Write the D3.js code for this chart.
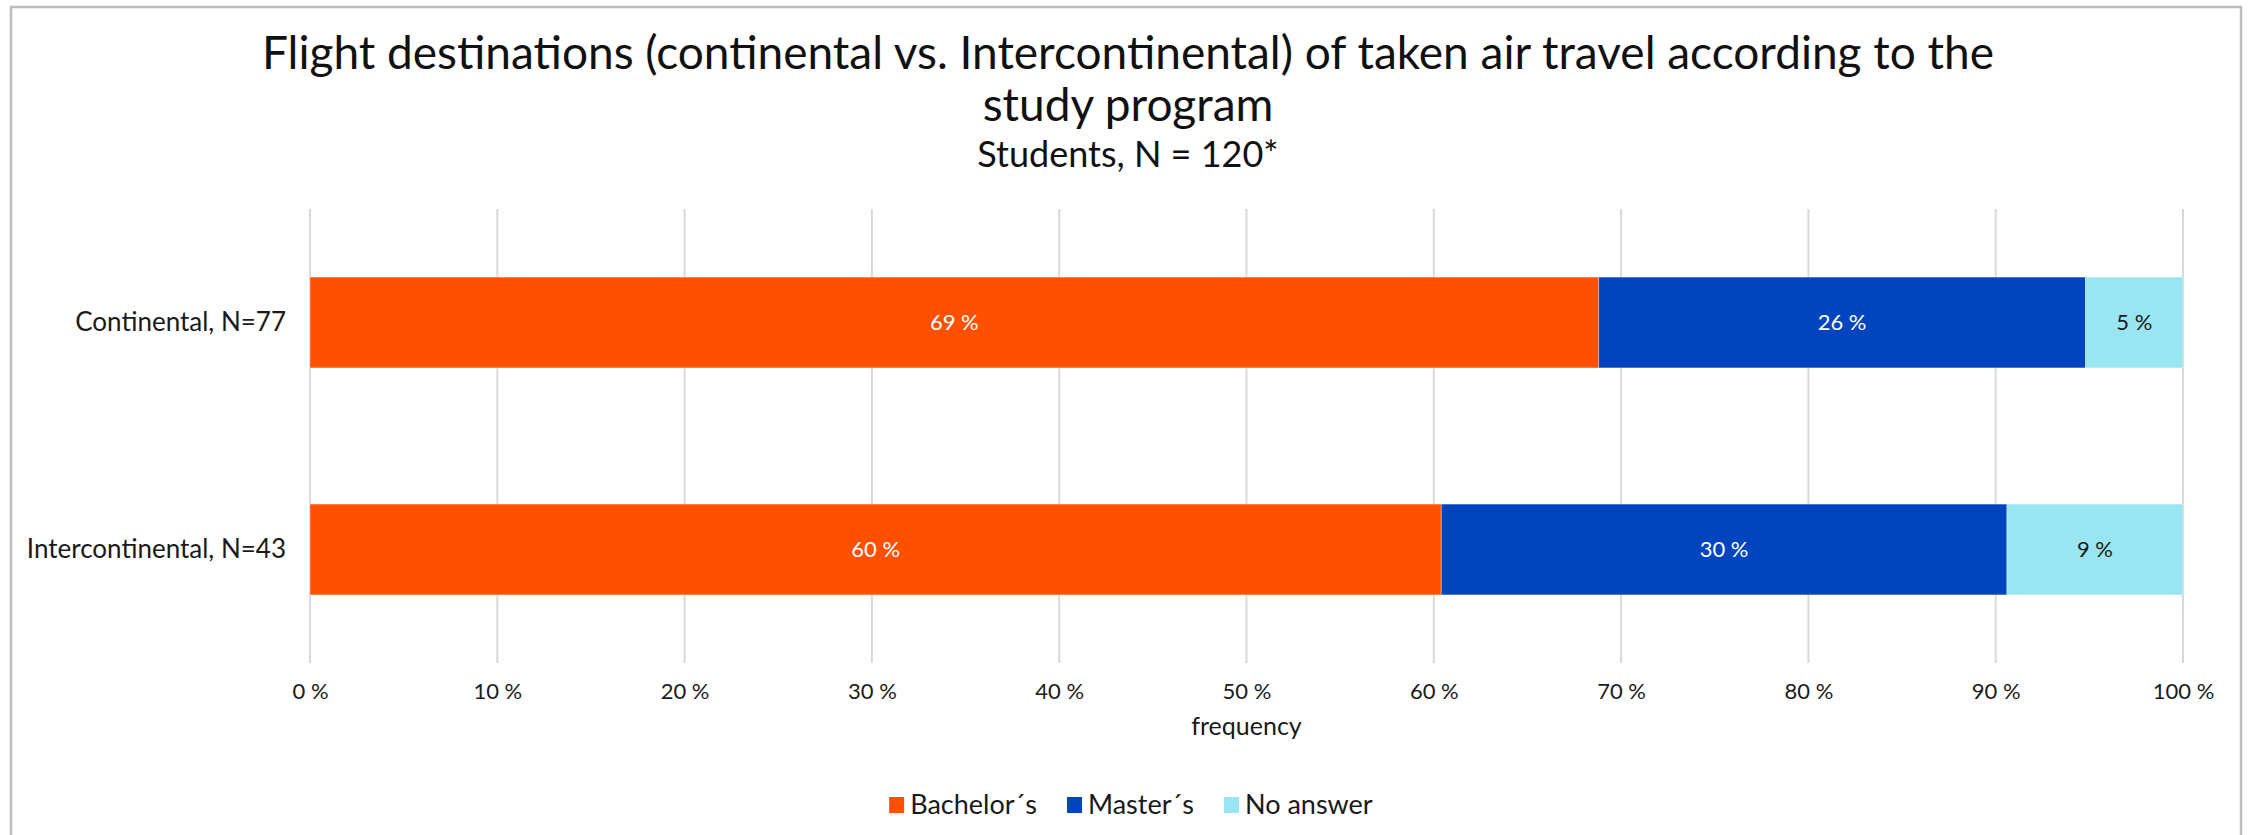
<!DOCTYPE html>
<html>
<head>
<meta charset="utf-8">
<script src="https://cdn.jsdelivr.net/npm/d3@7"></script>
<style>
  html, body { margin: 0; padding: 0; background: #fff; }
  svg { display: block; font-family: Lato, "Open Sans", sans-serif; }
</style>
</head>
<body>
<svg id="chart" width="2252" height="835"></svg>
<script>
// Flight destinations by study program (share of respondents, %)
const categories = ["Continental, N=77", "Intercontinental, N=43"];
const seriesNames = ["Bachelor´s", "Master´s", "No answer"];
const bachelor = [68.8, 60.4];
const master = [26.0, 30.2];
const noAnswer = [5.2, 9.4];
const xTicks = [0, 10, 20, 30, 40, 50, 60, 70, 80, 90, 100];
const colors = ["#FF5000", "#0045BE", "#99E5F1"];
const labelColors = ["#ffffff", "#ffffff", "#1a1a1a"];

const rows = categories.map((c, i) => ({
  category: c,
  "Bachelor´s": bachelor[i],
  "Master´s": master[i],
  "No answer": noAnswer[i]
}));
const stacked = d3.stack().keys(seriesNames)(rows);

const svg = d3.select("#chart");
const W = 2252, H = 835;
const plot = { left: 310, right: 2183, top: 209, bottom: 663 };

// chart frame (open at the bottom)
svg.append("path")
  .attr("d", `M11,${H} L11,7 L2241,7 L2241,${H}`)
  .attr("fill", "none")
  .attr("stroke", "#bdbdbd")
  .attr("stroke-width", 2.5);

const x = d3.scaleLinear().domain([0, 100]).range([plot.left, plot.right]);
const y = d3.scaleBand().domain(categories)
  .range([plot.top, plot.bottom])
  .paddingInner(0.6).paddingOuter(0.3);

// vertical gridlines
svg.append("g").selectAll("line").data(xTicks).join("line")
  .attr("x1", d => x(d)).attr("x2", d => x(d))
  .attr("y1", plot.top).attr("y2", plot.bottom)
  .attr("stroke", "#d9d9d9").attr("stroke-width", 2);

// stacked bars
const layers = svg.append("g").selectAll("g").data(stacked).join("g")
  .attr("fill", (d, i) => colors[i]);
layers.selectAll("rect").data(d => d).join("rect")
  .attr("x", d => x(d[0]))
  .attr("width", d => x(d[1]) - x(d[0]))
  .attr("y", d => y(d.data.category))
  .attr("height", y.bandwidth())
  .attr("stroke", "rgba(255,255,255,0.35)")
  .attr("stroke-width", 1);

// value labels inside segments
svg.append("g").selectAll("g").data(stacked).join("g")
  .attr("fill", (d, i) => labelColors[i])
  .selectAll("text").data(d => d).join("text")
  .attr("x", d => (x(d[0]) + x(d[1])) / 2)
  .attr("y", d => y(d.data.category) + y.bandwidth() / 2)
  .attr("dy", "0.36em")
  .attr("text-anchor", "middle")
  .attr("font-size", 22)
  .text(d => `${Math.round(d[1] - d[0])} %`);

// x axis tick labels
const xAxis = d3.axisBottom(x).tickValues(xTicks).tickSize(0).tickPadding(0)
  .tickFormat(d => `${d} %`);
const gx = svg.append("g").attr("transform", `translate(0,${plot.bottom + 20})`).call(xAxis);
gx.select(".domain").remove();
gx.selectAll("text").attr("font-size", 22).attr("fill", "#1a1a1a")
  .attr("font-family", "Lato, 'Open Sans', sans-serif");

// category axis labels
const yAxis = d3.axisLeft(y).tickSize(0).tickPadding(24);
const gy = svg.append("g").attr("transform", `translate(${plot.left},0)`).call(yAxis);
gy.select(".domain").remove();
gy.selectAll("text").attr("font-size", 26).attr("fill", "#1a1a1a")
  .attr("font-family", "Lato, 'Open Sans', sans-serif");

// axis title
svg.append("text")
  .attr("x", (plot.left + plot.right) / 2).attr("y", 735)
  .attr("text-anchor", "middle").attr("font-size", 25).attr("fill", "#1a1a1a")
  .text("frequency");

// titles
const title = svg.append("g").attr("text-anchor", "middle").attr("fill", "#111");
title.append("text").attr("x", 1128).attr("y", 69).attr("font-size", 46)
  .text("Flight destinations (continental vs. Intercontinental) of taken air travel according to the");
title.append("text").attr("x", 1128).attr("y", 121).attr("font-size", 46)
  .text("study program");
title.append("text").attr("x", 1128).attr("y", 167).attr("font-size", 36)
  .text("Students, N = 120*");

// legend
const legendItems = seriesNames.map((n, i) => ({ name: n, color: colors[i] }));
const legend = svg.append("g");
const items = legend.selectAll("g").data(legendItems).join("g");
items.append("rect").attr("width", 15).attr("height", 16).attr("y", 797)
  .attr("fill", d => d.color);
items.append("text").attr("x", 21).attr("y", 814).attr("font-size", 27)
  .attr("fill", "#1a1a1a").text(d => d.name);
// lay out legend entries horizontally and center the group
let cursor = 0;
items.each(function () {
  const g = d3.select(this);
  g.attr("transform", `translate(${cursor},0)`);
  cursor += this.getBBox().width + 30;
});
const legendWidth = cursor - 30;
legend.attr("transform", `translate(${1131 - legendWidth / 2},0)`);
</script>
</body>
</html>
